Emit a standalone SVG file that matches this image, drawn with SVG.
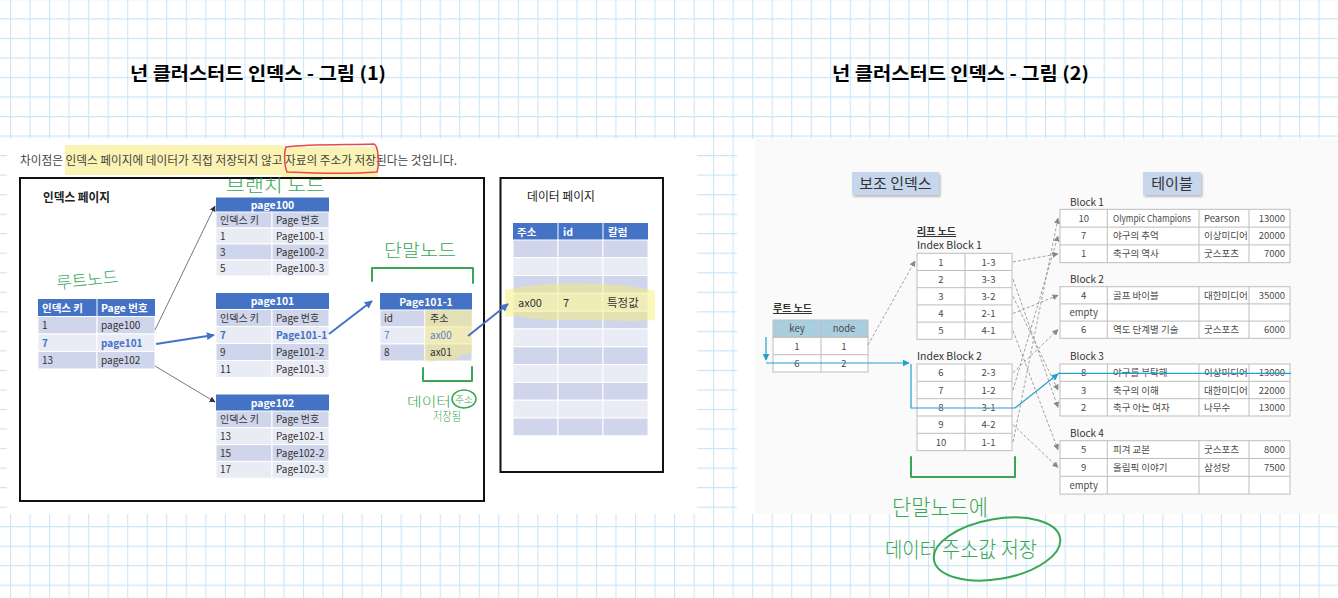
<svg xmlns="http://www.w3.org/2000/svg" width="1338" height="598" viewBox="0 0 1338 598">
<style>
text{font-family:"Noto Sans CJK KR","Liberation Sans",sans-serif}
.ttl{font-size:18px;font-weight:bold;fill:#000}
.t{font-size:10px;fill:#333}
.tw{font-size:10.5px;fill:#fff;font-weight:bold}
.tb{font-size:10px;fill:#4472c4;font-weight:bold}
.hd{fill:#4472c4}
.dk{fill:#cfd5ea;stroke:#fff;stroke-width:1}
.lt{fill:#e9ebf5;stroke:#fff;stroke-width:1}
.rt{font-size:9.5px;fill:#4a4a4a}
.tbl{fill:#fff;stroke:#bdbdbd;stroke-width:1}
.tln{fill:none;stroke:#bdbdbd;stroke-width:1}
.hw{fill:#38a654;font-weight:300}
.hws{fill:none;stroke:#38a654;stroke-width:2;stroke-linecap:round;stroke-linejoin:round}
.thin{fill:none;stroke:#555;stroke-width:0.8}
.blue{fill:none;stroke:#4472c4;stroke-width:2}
.dash{fill:none;stroke:#8a8a8a;stroke-width:0.8;stroke-dasharray:3 2}
.cyan{fill:none;stroke:#22a0cc;stroke-width:1.2}
</style>
<defs>
<pattern id="grid" x="10" y="18.3" width="19.53" height="19.53" patternUnits="userSpaceOnUse">
<path d="M0 0.5H19.53M0.5 0V19.53" stroke="#c9e6f8" stroke-width="1.2" fill="none"/>
</pattern>
<marker id="mThin" viewBox="0 0 10 10" refX="9" refY="5" markerWidth="6" markerHeight="6" markerUnits="userSpaceOnUse" orient="auto"><path d="M0 0L10 5L0 10Z" fill="#333"/></marker>
<marker id="mBlue" viewBox="0 0 10 10" refX="9" refY="5" markerWidth="8" markerHeight="8" markerUnits="userSpaceOnUse" orient="auto"><path d="M0 0L10 5L0 10Z" fill="#4472c4"/></marker>
<marker id="mGray" viewBox="0 0 10 10" refX="9" refY="5" markerWidth="6" markerHeight="6" markerUnits="userSpaceOnUse" orient="auto"><path d="M0 0L10 5L0 10Z" fill="#888"/></marker>
<marker id="mCyan" viewBox="0 0 10 10" refX="9" refY="5" markerWidth="7" markerHeight="7" markerUnits="userSpaceOnUse" orient="auto"><path d="M0 0L10 5L0 10Z" fill="#22a0cc"/></marker>
<filter id="sh" x="-10%" y="-10%" width="130%" height="140%"><feDropShadow dx="1.5" dy="2" stdDeviation="1" flood-color="#000" flood-opacity="0.25"/></filter>
</defs>

<rect width="1338" height="598" fill="#fff"/>
<rect width="1338" height="598" fill="url(#grid)"/>

<text class="ttl" x="130" y="80" textLength="256" lengthAdjust="spacingAndGlyphs">넌 클러스터드 인덱스 - 그림 (1)</text>
<text class="ttl" x="832" y="80" textLength="257" lengthAdjust="spacingAndGlyphs">넌 클러스터드 인덱스 - 그림 (2)</text>

<!-- LEFT PICTURE -->
<rect x="7" y="139" width="690" height="375" fill="#fff"/>
<rect x="65" y="145" width="218" height="30" fill="#fbf3b3"/>
<rect x="282" y="147" width="96" height="31" fill="#fbf3b3"/>
<text x="20" y="165" font-size="12" fill="#444" textLength="437" lengthAdjust="spacingAndGlyphs">차이점은 인덱스 페이지에 데이터가 직접 저장되지 않고 자료의 주소가 저장된다는 것입니다.</text>
<path d="M286,147 C310,144 350,145 374,144 C379,146 379,166 377,172 C350,174 310,173 287,172 C284,165 284,152 286,147 Z" fill="none" stroke="#e8474e" stroke-width="1.5"/>

<rect x="20" y="178" width="464" height="323" fill="none" stroke="#111" stroke-width="2"/>
<text x="43" y="202" font-size="12.5" font-weight="bold" fill="#222" textLength="67" lengthAdjust="spacingAndGlyphs">인덱스 페이지</text>
<rect x="500.5" y="178" width="162.5" height="294" fill="none" stroke="#111" stroke-width="2"/>
<text x="527" y="201" font-size="12" fill="#222" textLength="68" lengthAdjust="spacingAndGlyphs">데이터 페이지</text>

<g id="root-node">
<rect x="38" y="299" width="117" height="17.5" class="hd"/>
<line x1="97" y1="299" x2="97" y2="316.5" stroke="#fff"/>
<text class="tw" x="42" y="311.5">인덱스 키</text><text class="tw" x="101" y="311.5">Page 번호</text>
<rect x="38" y="316.5" width="59" height="17.5" class="dk"/><rect x="97" y="316.5" width="58" height="17.5" class="dk"/>
<rect x="38" y="334" width="59" height="17.5" class="lt"/><rect x="97" y="334" width="58" height="17.5" class="lt"/>
<rect x="38" y="351.5" width="59" height="17.5" class="dk"/><rect x="97" y="351.5" width="58" height="17.5" class="dk"/>
<text class="t" x="42" y="329">1</text><text class="t" x="101" y="329">page100</text>
<text class="tb" x="42" y="346.5">7</text><text class="tb" x="101" y="346.5">page101</text>
<text class="t" x="42" y="364">13</text><text class="t" x="101" y="364">page102</text>
</g>

<g id="page100">
<rect x="216" y="197.5" width="113" height="14.5" class="hd"/>
<text class="tw" x="272.5" y="208.5" text-anchor="middle">page100</text>
<rect x="216" y="212" width="56" height="16" class="dk"/><rect x="272" y="212" width="57" height="16" class="dk"/>
<rect x="216" y="228" width="56" height="16" class="lt"/><rect x="272" y="228" width="57" height="16" class="lt"/>
<rect x="216" y="244" width="56" height="16" class="dk"/><rect x="272" y="244" width="57" height="16" class="dk"/>
<rect x="216" y="260" width="56" height="16" class="lt"/><rect x="272" y="260" width="57" height="16" class="lt"/>
<text class="t" x="220" y="223.5">인덱스 키</text><text class="t" x="276" y="223.5">Page 번호</text>
<text class="t" x="220" y="239.5">1</text><text class="t" x="276" y="239.5">Page100-1</text>
<text class="t" x="220" y="255.5">3</text><text class="t" x="276" y="255.5">Page100-2</text>
<text class="t" x="220" y="271.5">5</text><text class="t" x="276" y="271.5">Page100-3</text>
</g>

<g id="page101">
<rect x="216" y="293" width="113" height="16.5" class="hd"/>
<text class="tw" x="272.5" y="305" text-anchor="middle">page101</text>
<rect x="216" y="309.5" width="56" height="17" class="dk"/><rect x="272" y="309.5" width="57" height="17" class="dk"/>
<rect x="216" y="326.5" width="56" height="17" class="lt"/><rect x="272" y="326.5" width="57" height="17" class="lt"/>
<rect x="216" y="343.5" width="56" height="17" class="dk"/><rect x="272" y="343.5" width="57" height="17" class="dk"/>
<rect x="216" y="360.5" width="56" height="17" class="lt"/><rect x="272" y="360.5" width="57" height="17" class="lt"/>
<text class="t" x="220" y="321.5">인덱스 키</text><text class="t" x="276" y="321.5">Page 번호</text>
<text class="tb" x="220" y="338.5">7</text><text class="tb" x="276" y="338.5">Page101-1</text>
<text class="t" x="220" y="355.5">9</text><text class="t" x="276" y="355.5">Page101-2</text>
<text class="t" x="220" y="372.5">11</text><text class="t" x="276" y="372.5">Page101-3</text>
</g>

<g id="page102">
<rect x="216" y="394.5" width="113" height="16.5" class="hd"/>
<text class="tw" x="272.5" y="406.5" text-anchor="middle">page102</text>
<rect x="216" y="411" width="56" height="16.8" class="dk"/><rect x="272" y="411" width="57" height="16.8" class="dk"/>
<rect x="216" y="427.8" width="56" height="16.8" class="lt"/><rect x="272" y="427.8" width="57" height="16.8" class="lt"/>
<rect x="216" y="444.6" width="56" height="16.8" class="dk"/><rect x="272" y="444.6" width="57" height="16.8" class="dk"/>
<rect x="216" y="461.4" width="56" height="16.8" class="lt"/><rect x="272" y="461.4" width="57" height="16.8" class="lt"/>
<text class="t" x="220" y="423">인덱스 키</text><text class="t" x="276" y="423">Page 번호</text>
<text class="t" x="220" y="439.8">13</text><text class="t" x="276" y="439.8">Page102-1</text>
<text class="t" x="220" y="456.6">15</text><text class="t" x="276" y="456.6">Page102-2</text>
<text class="t" x="220" y="473.4">17</text><text class="t" x="276" y="473.4">Page102-3</text>
</g>

<g id="page101-1">
<rect x="380" y="293" width="92" height="17" class="hd"/>
<text class="tw" x="426" y="305.5" text-anchor="middle">Page101-1</text>
<rect x="380" y="310" width="45" height="17" class="dk"/><rect x="425" y="310" width="47" height="17" class="dk"/>
<rect x="380" y="327" width="45" height="17" class="lt"/><rect x="425" y="327" width="47" height="17" class="lt"/>
<rect x="380" y="344" width="45" height="17" class="dk"/><rect x="425" y="344" width="47" height="17" class="dk"/>
<path d="M425,310 H472 V352 C468,356 462,353 458,358 C450,363 440,358 432,362 L425,361 Z" fill="#f3ea86" opacity="0.55"/>
<text class="t" x="384" y="322">id</text><text class="t" x="430" y="322">주소</text>
<text class="t" x="384" y="339" style="fill:#5b7fc7">7</text><text class="t" x="430" y="339" style="fill:#5b7fc7">ax00</text>
<text class="t" x="384" y="356">8</text><text class="t" x="430" y="356">ax01</text>
</g>

<g id="data-page">
<rect x="513" y="223" width="135" height="17" class="hd"/>
<path d="M558 223V240M603 223V240" stroke="#fff"/>
<text class="tw" x="517" y="235.5">주소</text><text class="tw" x="563" y="235.5">id</text><text class="tw" x="608" y="235.5">칼럼</text>
<g>
<rect x="513" y="240" width="45" height="17.8" class="dk"/><rect x="558" y="240" width="45" height="17.8" class="dk"/><rect x="603" y="240" width="45" height="17.8" class="dk"/>
<rect x="513" y="257.8" width="45" height="17.8" class="lt"/><rect x="558" y="257.8" width="45" height="17.8" class="lt"/><rect x="603" y="257.8" width="45" height="17.8" class="lt"/>
<rect x="513" y="275.6" width="45" height="17.8" class="dk"/><rect x="558" y="275.6" width="45" height="17.8" class="dk"/><rect x="603" y="275.6" width="45" height="17.8" class="dk"/>
<rect x="513" y="293.4" width="45" height="17.8" class="lt"/><rect x="558" y="293.4" width="45" height="17.8" class="lt"/><rect x="603" y="293.4" width="45" height="17.8" class="lt"/>
<rect x="513" y="311.2" width="45" height="17.8" class="dk"/><rect x="558" y="311.2" width="45" height="17.8" class="dk"/><rect x="603" y="311.2" width="45" height="17.8" class="dk"/>
<rect x="513" y="329" width="45" height="17.8" class="lt"/><rect x="558" y="329" width="45" height="17.8" class="lt"/><rect x="603" y="329" width="45" height="17.8" class="lt"/>
<rect x="513" y="346.8" width="45" height="17.8" class="dk"/><rect x="558" y="346.8" width="45" height="17.8" class="dk"/><rect x="603" y="346.8" width="45" height="17.8" class="dk"/>
<rect x="513" y="364.6" width="45" height="17.8" class="lt"/><rect x="558" y="364.6" width="45" height="17.8" class="lt"/><rect x="603" y="364.6" width="45" height="17.8" class="lt"/>
<rect x="513" y="382.4" width="45" height="17.8" class="dk"/><rect x="558" y="382.4" width="45" height="17.8" class="dk"/><rect x="603" y="382.4" width="45" height="17.8" class="dk"/>
<rect x="513" y="400.2" width="45" height="17.8" class="lt"/><rect x="558" y="400.2" width="45" height="17.8" class="lt"/><rect x="603" y="400.2" width="45" height="17.8" class="lt"/>
<rect x="513" y="418" width="45" height="17.8" class="dk"/><rect x="558" y="418" width="45" height="17.8" class="dk"/><rect x="603" y="418" width="45" height="17.8" class="dk"/>
</g>
<path d="M505,290 C530,285 560,282 600,284 C625,285 645,288 655,291 L655,320 C630,322 600,320 560,320 C540,320 525,318 518,316 L505,317 Z" fill="#f7ee7a" opacity="0.5"/>
<text x="518" y="307" font-size="11" fill="#333">ax00</text><text x="563" y="307" font-size="11" fill="#333">7</text><text x="607" y="307" font-size="11.5" fill="#333">특정값</text>
</g>

<g id="left-connectors">
<line class="thin" x1="155" y1="330" x2="215" y2="206" marker-end="url(#mThin)"/>
<line class="blue" x1="156" y1="344" x2="214" y2="335" marker-end="url(#mBlue)"/>
<line class="thin" x1="155" y1="366" x2="215" y2="402" marker-end="url(#mThin)"/>
<line class="blue" x1="329" y1="334" x2="372" y2="301" marker-end="url(#mBlue)"/>
<line class="blue" x1="468" y1="336" x2="508" y2="304" marker-end="url(#mBlue)"/>
</g>

<g id="left-handwriting">
<text class="hw" x="226" y="192" font-size="17" textLength="99" lengthAdjust="spacingAndGlyphs">브랜치 노드</text>
<text class="hw" x="56" y="286" font-size="17" textLength="62" lengthAdjust="spacingAndGlyphs" transform="rotate(-6 87 278)">루트노드</text>
<text class="hw" x="384" y="257" font-size="18" textLength="72" lengthAdjust="spacingAndGlyphs">단말노드</text>
<path class="hws" d="M372,281 V268 H473 V283"/>
<path class="hws" d="M423,368 V381 H472 V367"/>
<text class="hw" x="407" y="406" font-size="13" textLength="44" lengthAdjust="spacingAndGlyphs">데이터</text>
<ellipse class="hws" cx="464" cy="399" rx="12" ry="9" style="stroke-width:1.5"/>
<text class="hw" x="464" y="403" font-size="9.5" text-anchor="middle">주소</text>
<text class="hw" x="433" y="421" font-size="12" textLength="28" lengthAdjust="spacingAndGlyphs">저장됨</text>
</g>

<!-- RIGHT PICTURE -->
<rect x="737" y="139" width="601" height="375" fill="#fff"/>
<rect x="755" y="139" width="583" height="375" fill="#fafafa"/>

<g id="box-secondary-index">
<rect x="852" y="172" width="87" height="23" fill="#c6d6ec" filter="url(#sh)"/>
<text x="895.5" y="189" font-size="15" fill="#333" text-anchor="middle">보조 인덱스</text>
</g>
<g id="box-table">
<rect x="1143" y="172" width="58" height="23" fill="#c6d6ec" filter="url(#sh)"/>
<text x="1172" y="189" font-size="15" fill="#333" text-anchor="middle">테이블</text>
</g>

<g id="root-node-2">
<text x="773" y="312" font-size="10" font-weight="bold" fill="#333" text-decoration="underline">루트 노드</text>
<rect x="773" y="320" width="95" height="17.3" fill="#a9cee0" stroke="#bdbdbd"/>
<rect x="773" y="337.3" width="95" height="34.7" class="tbl"/>
<path class="tln" d="M821 320V372M773 354.7H868"/>
<text class="rt" x="797" y="332" text-anchor="middle">key</text><text class="rt" x="844" y="332" text-anchor="middle">node</text>
<text class="rt" x="797" y="349.5" text-anchor="middle">1</text><text class="rt" x="844" y="349.5" text-anchor="middle">1</text>
<text class="rt" x="797" y="367" text-anchor="middle">6</text><text class="rt" x="844" y="367" text-anchor="middle">2</text>
</g>

<g id="index-block-1">
<text x="917" y="235" font-size="10" font-weight="bold" fill="#333" text-decoration="underline">리프 노드</text>
<text x="917" y="249" font-size="10.5" fill="#333">Index Block 1</text>
<rect x="917" y="253.3" width="95" height="86" class="tbl"/>
<path class="tln" d="M965 253.3V339.3M917 270.5H1012M917 287.7H1012M917 304.9H1012M917 322.1H1012"/>
<text class="rt" x="941" y="265.5" text-anchor="middle">1</text><text class="rt" x="988.5" y="265.5" text-anchor="middle">1-3</text>
<text class="rt" x="941" y="282.7" text-anchor="middle">2</text><text class="rt" x="988.5" y="282.7" text-anchor="middle">3-3</text>
<text class="rt" x="941" y="299.9" text-anchor="middle">3</text><text class="rt" x="988.5" y="299.9" text-anchor="middle">3-2</text>
<text class="rt" x="941" y="317.1" text-anchor="middle">4</text><text class="rt" x="988.5" y="317.1" text-anchor="middle">2-1</text>
<text class="rt" x="941" y="334.3" text-anchor="middle">5</text><text class="rt" x="988.5" y="334.3" text-anchor="middle">4-1</text>
</g>

<g id="index-block-2">
<text x="917" y="360" font-size="10.5" fill="#333">Index Block 2</text>
<rect x="917" y="364" width="95" height="86.7" class="tbl"/>
<path class="tln" d="M965 364V450.7M917 381.3H1012M917 398.7H1012M917 416H1012M917 433.3H1012"/>
<text class="rt" x="941" y="376.3" text-anchor="middle">6</text><text class="rt" x="988.5" y="376.3" text-anchor="middle">2-3</text>
<text class="rt" x="941" y="393.6" text-anchor="middle">7</text><text class="rt" x="988.5" y="393.6" text-anchor="middle">1-2</text>
<text class="rt" x="941" y="411" text-anchor="middle">8</text><text class="rt" x="988.5" y="411" text-anchor="middle">3-1</text>
<text class="rt" x="941" y="428.3" text-anchor="middle">9</text><text class="rt" x="988.5" y="428.3" text-anchor="middle">4-2</text>
<text class="rt" x="941" y="445.6" text-anchor="middle">10</text><text class="rt" x="988.5" y="445.6" text-anchor="middle">1-1</text>
</g>

<g id="block-1">
<text x="1070" y="206" font-size="10" fill="#333">Block 1</text>
<rect x="1060" y="209.3" width="230" height="53.4" class="tbl"/>
<path class="tln" d="M1060 227.1H1290M1060 244.9H1290M1107.3 209.3V262.7M1199 209.3V262.7M1249 209.3V262.7"/>
<text class="rt" x="1083.7" y="221.6" text-anchor="middle">10</text><text class="rt" x="1113" y="221.6" textLength="78" lengthAdjust="spacingAndGlyphs">Olympic Champions</text><text class="rt" x="1204" y="221.6">Pearson</text><text class="rt" x="1285" y="221.6" text-anchor="end">13000</text>
<text class="rt" x="1083.7" y="239.4" text-anchor="middle">7</text><text class="rt" x="1113" y="239.4">야구의 추억</text><text class="rt" x="1204" y="239.4">이상미디어</text><text class="rt" x="1285" y="239.4" text-anchor="end">20000</text>
<text class="rt" x="1083.7" y="257.2" text-anchor="middle">1</text><text class="rt" x="1113" y="257.2">축구의 역사</text><text class="rt" x="1204" y="257.2">굿스포츠</text><text class="rt" x="1285" y="257.2" text-anchor="end">7000</text>
</g>

<g id="block-2">
<text x="1070" y="283" font-size="10" fill="#333">Block 2</text>
<rect x="1060" y="286.7" width="230" height="51.6" class="tbl"/>
<path class="tln" d="M1060 303.9H1290M1060 321.1H1290M1107.3 286.7V338.3M1199 286.7V338.3M1249 286.7V338.3"/>
<text class="rt" x="1083.7" y="298.8" text-anchor="middle">4</text><text class="rt" x="1113" y="298.8">골프 바이블</text><text class="rt" x="1204" y="298.8">대한미디어</text><text class="rt" x="1285" y="298.8" text-anchor="end">35000</text>
<text class="rt" x="1083.7" y="316" text-anchor="middle">empty</text>
<text class="rt" x="1083.7" y="333.2" text-anchor="middle">6</text><text class="rt" x="1113" y="333.2">역도 단계별 기술</text><text class="rt" x="1204" y="333.2">굿스포츠</text><text class="rt" x="1285" y="333.2" text-anchor="end">6000</text>
</g>

<g id="block-3">
<text x="1070" y="360" font-size="10" fill="#333">Block 3</text>
<rect x="1060" y="364" width="230" height="52" class="tbl"/>
<path class="tln" d="M1060 381.3H1290M1060 398.7H1290M1107.3 364V416M1199 364V416M1249 364V416"/>
<text class="rt" x="1083.7" y="376.2" text-anchor="middle">8</text><text class="rt" x="1113" y="376.2">야구를 부탁해</text><text class="rt" x="1204" y="376.2">이상미디어</text><text class="rt" x="1285" y="376.2" text-anchor="end">13000</text>
<text class="rt" x="1083.7" y="393.5" text-anchor="middle">3</text><text class="rt" x="1113" y="393.5">축구의 이해</text><text class="rt" x="1204" y="393.5">대한미디어</text><text class="rt" x="1285" y="393.5" text-anchor="end">22000</text>
<text class="rt" x="1083.7" y="410.9" text-anchor="middle">2</text><text class="rt" x="1113" y="410.9">축구 아는 여자</text><text class="rt" x="1204" y="410.9">나무수</text><text class="rt" x="1285" y="410.9" text-anchor="end">13000</text>
</g>

<g id="block-4">
<text x="1070" y="437" font-size="10" fill="#333">Block 4</text>
<rect x="1060" y="440.7" width="230" height="53.4" class="tbl"/>
<path class="tln" d="M1060 458.5H1290M1060 476.3H1290M1107.3 440.7V494.1M1199 440.7V494.1M1249 440.7V494.1"/>
<text class="rt" x="1083.7" y="453" text-anchor="middle">5</text><text class="rt" x="1113" y="453">피겨 교본</text><text class="rt" x="1204" y="453">굿스포츠</text><text class="rt" x="1285" y="453" text-anchor="end">8000</text>
<text class="rt" x="1083.7" y="470.8" text-anchor="middle">9</text><text class="rt" x="1113" y="470.8">올림픽 이야기</text><text class="rt" x="1204" y="470.8">삼성당</text><text class="rt" x="1285" y="470.8" text-anchor="end">7500</text>
<text class="rt" x="1083.7" y="488.6" text-anchor="middle">empty</text>
</g>

<g id="right-connectors">
<line class="dash" x1="868" y1="345" x2="915" y2="261" marker-end="url(#mGray)"/>
<line class="dash" x1="1013" y1="261.9" x2="1058" y2="253.8" marker-end="url(#mGray)"/>
<line class="dash" x1="1013" y1="279.1" x2="1058" y2="407.3" marker-end="url(#mGray)"/>
<line class="dash" x1="1013" y1="296.3" x2="1058" y2="390" marker-end="url(#mGray)"/>
<line class="dash" x1="1013" y1="313.5" x2="1058" y2="295.3" marker-end="url(#mGray)"/>
<line class="dash" x1="1013" y1="330.7" x2="1058" y2="449.6" marker-end="url(#mGray)"/>
<line class="dash" x1="1013" y1="372.7" x2="1058" y2="329.7" marker-end="url(#mGray)"/>
<line class="dash" x1="1013" y1="390" x2="1058" y2="236" marker-end="url(#mGray)"/>
<line class="dash" x1="1013" y1="424.7" x2="1058" y2="467.4" marker-end="url(#mGray)"/>
<line class="dash" x1="1013" y1="442" x2="1058" y2="218.2" marker-end="url(#mGray)"/>
<path class="cyan" d="M766,337 V360" marker-end="url(#mCyan)"/>
<path class="cyan" d="M766,363 H909" marker-end="url(#mCyan)"/>
<path class="cyan" d="M911,364 V408 H1015 L1058,374" marker-end="url(#mCyan)"/>
<path class="cyan" d="M1058,373.3 H1291"/>
</g>

<g id="right-handwriting">
<path class="hws" d="M911,457 V477 H1015 V457"/>
<text class="hw" x="892" y="515" font-size="22" textLength="96" lengthAdjust="spacingAndGlyphs">단말노드에</text>
<text class="hw" x="885" y="557" font-size="21" textLength="52" lengthAdjust="spacingAndGlyphs">데이터</text>
<text class="hw" x="942" y="557" font-size="22" textLength="95" lengthAdjust="spacingAndGlyphs">주소값 저장</text>
<ellipse class="hws" cx="997" cy="549" rx="64" ry="30" transform="rotate(-10 997 549)"/>
</g>
</svg>
